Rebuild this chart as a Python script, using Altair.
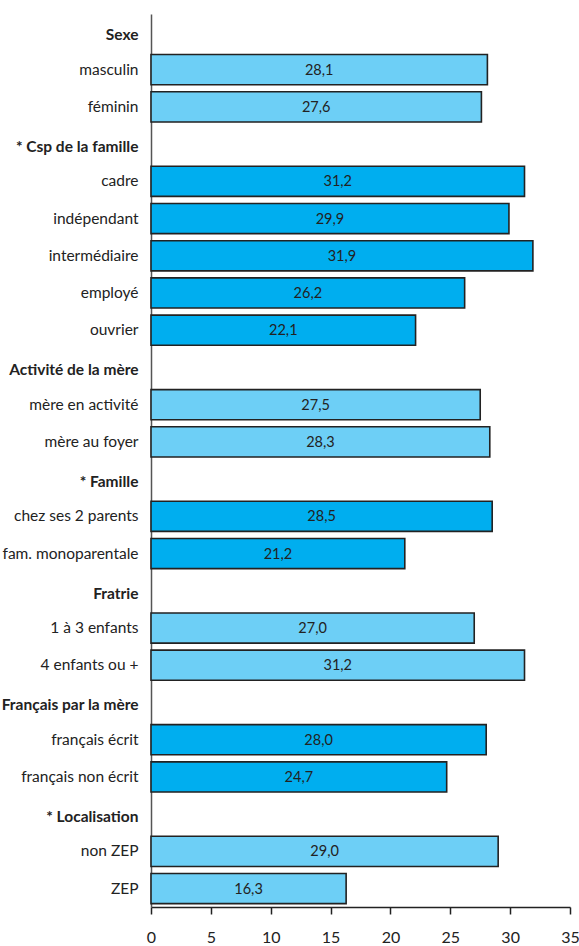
import altair as alt
import pandas as pd

rows = ["Sexe", "masculin", "féminin",
        "* Csp de la famille", "cadre", "indépendant", "intermédiaire", "employé", "ouvrier",
        "Activité de la mère", "mère en activité", "mère au foyer",
        "* Famille", "chez ses 2 parents", "fam. monoparentale",
        "Fratrie", "1 à 3 enfants", "4 enfants ou +",
        "Français par la mère", "français écrit", "français non écrit",
        "* Localisation", "non ZEP", "ZEP"]
headers = ["Sexe", "* Csp de la famille", "Activité de la mère", "* Famille",
           "Fratrie", "Français par la mère", "* Localisation"]

categories = ["masculin", "féminin", "cadre", "indépendant", "intermédiaire", "employé", "ouvrier",
              "mère en activité", "mère au foyer", "chez ses 2 parents", "fam. monoparentale",
              "1 à 3 enfants", "4 enfants ou +", "français écrit", "français non écrit",
              "non ZEP", "ZEP"]
values = [28.1, 27.6, 31.2, 29.9, 31.9, 26.2, 22.1, 27.5, 28.3, 28.5, 21.2,
          27.0, 31.2, 28.0, 24.7, 29.0, 16.3]
groups = ["clair", "clair", "fonce", "fonce", "fonce", "fonce", "fonce", "clair", "clair",
          "fonce", "fonce", "clair", "clair", "fonce", "fonce", "clair", "clair"]

df = pd.DataFrame({"cat": categories, "val": values, "grp": groups})
df["lab"] = [f"{v:.1f}".replace(".", ",") for v in values]
df["mid"] = df["val"] / 2

FONT = "Lato, Roboto, sans-serif"

hdr_list = str(headers).replace("'", '"')
is_hdr = "indexof(" + hdr_list + ", datum.value) >= 0"

y = alt.Y("cat:N", sort=rows,
          scale=alt.Scale(domain=rows, paddingInner=0.19, paddingOuter=0.09),
          axis=alt.Axis(title=None, ticks=False, domain=True, domainColor="#555",
                        domainWidth=1.5, labelFont=FONT, labelFontSize=15.5,
                        labelColor="#222", labelPadding=13, labelLimit=300,
                        labelFontWeight={"expr": is_hdr + " ? 'bold' : 'normal'"},
                        labelOffset={"expr": is_hdr + " ? 3 : 0"}))

bars = alt.Chart(df).mark_bar(stroke="#222", strokeWidth=1.6).encode(
    x=alt.X("val:Q", scale=alt.Scale(domain=[0, 35], nice=False),
            axis=alt.Axis(title=None, values=[0, 5, 10, 15, 20, 25, 30, 35], grid=False,
                          tickSize=7, tickColor="#222", tickWidth=1.5, domainColor="#222",
                          domainWidth=1.5, labelFont=FONT, labelFontSize=16,
                          labelColor="#222", labelPadding=15, labelFlush=False)),
    y=y,
    color=alt.Color("grp:N", scale=alt.Scale(domain=["clair", "fonce"],
                                             range=["#6DCFF6", "#00AEEF"]), legend=None),
)

text = alt.Chart(df).mark_text(font=FONT, fontSize=14.5, color="#222", dy=1).encode(
    x="mid:Q", y=alt.Y("cat:N", sort=rows), text="lab:N")

chart = (bars + text).properties(
    width=419, height=893,
    autosize=alt.AutoSizeParams(type="none"),
    padding={"left": 151, "top": 14, "right": 9, "bottom": 39},
).configure_view(stroke=None)

chart.save("out.html", embed_options={"renderer": "svg", "actions": False})
